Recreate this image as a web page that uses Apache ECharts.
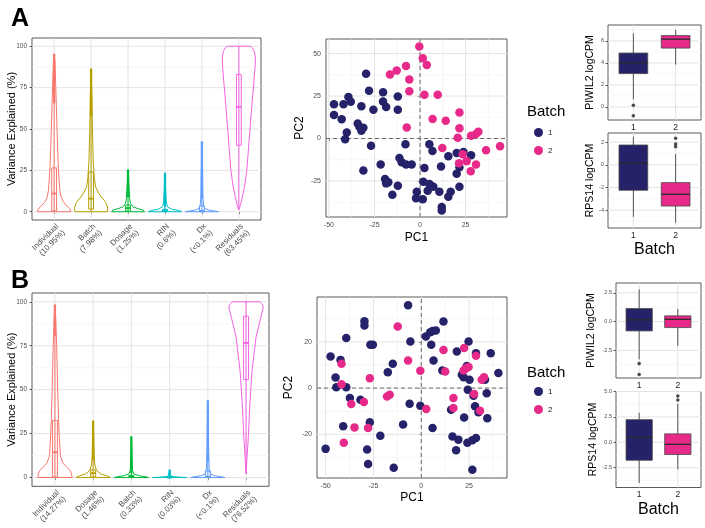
<!DOCTYPE html>
<html><head><meta charset="utf-8">
<script src="https://cdn.jsdelivr.net/npm/echarts@6/dist/echarts.min.js"></script>
<style>html,body{margin:0;padding:0;background:#fff}#c{width:705px;height:528px}</style>
</head><body><div id="c"></div>
<script>
// ---------------- DATA ----------------
const violinCatsA = ['Individual\n(10.95%)','Batch\n(7.98%)','Dosage\n(1.25%)','RIN\n(0.6%)','Dx\n(<0.1%)','Residuals\n(63.45%)'];
const violinCatsB = ['Individual\n(14.27%)','Dosage\n(1.46%)','Batch\n(0.33%)','RIN\n(0.03%)','Dx\n(<0.1%)','Residuals\n(76.52%)'];
const violinTicks = [0,25,50,75,100];
const violinMinor = [12.5,37.5,62.5,87.5];

// violin profiles: [value, relative width]
const profA_individual = [[0,1.0],[1,0.98],[2,0.93],[4,0.72],[6,0.55],[9,0.42],[13,0.34],[20,0.29],[30,0.24],[50,0.17],[75,0.1],[90,0.05],[95,0]];
const profA_batch = [[0,0.97],[2,1.0],[5,0.92],[7,0.78],[9,0.6],[11,0.47],[15,0.27],[20,0.2],[30,0.13],[50,0.08],[70,0.05],[86,0]];
const profA_dosage = [[0,1.0],[1,0.9],[2,0.55],[3,0.3],[5,0.15],[8,0.1],[15,0.06],[25,0]];
const profA_rin = [[0,1.0],[0.8,0.8],[1.5,0.4],[3,0.15],[6,0.08],[12,0.05],[23,0]];
const profA_dx = [[0,1.0],[0.5,0.7],[1,0.4],[2,0.18],[4,0.1],[10,0.06],[25,0.04],[42,0]];
const profA_resid = [[1.2,0],[4,0.1],[7,0.17],[15,0.34],[25,0.48],[50,0.67],[65,0.79],[78,0.9],[88,0.98],[93,1.0],[97,0.93],[99,0.82],[100,0.7]];

const profB_individual = [[0,1.0],[2,0.97],[4,0.88],[6,0.68],[8,0.48],[12,0.32],[20,0.27],[30,0.22],[50,0.16],[75,0.1],[90,0.05],[98,0]];
const profB_dosage = [[0,1.0],[1,0.8],[2,0.45],[4,0.2],[7,0.1],[12,0.06],[20,0.04],[32,0]];
const profB_batch = [[0,1.0],[0.5,0.8],[1,0.45],[2,0.15],[4,0.07],[10,0.04],[23,0]];
const profB_rin = [[0,1.0],[0.2,0.6],[0.5,0.2],[1,0.08],[2,0.04],[4,0]];
const profB_dx = [[0,1.0],[0.5,0.75],[1,0.4],[2,0.15],[5,0.08],[15,0.05],[30,0.03],[43.5,0]];
const profB_resid = [[2.1,0],[12,0.06],[23,0.13],[42,0.22],[61,0.35],[80,0.58],[90,0.83],[96,0.98],[97.5,1.0],[99,0.9],[100,0.8]];

// box inside violin: [lower, q1, median, q3, upper whisker, max]
const violinBoxA = [[0,0.5,11,26.5,66,95],[0,1.6,7.9,24,58,86],[0,0.3,2.2,4,9.5,25],[0,0.1,0.6,1.5,3.6,23],[0,0,0.5,3.5,8.8,42],[1.2,40.2,63.4,83,100,100]];
const violinBoxB = [[0,0.3,14.4,32.5,81,98],[0,0.3,2.5,4.4,10.5,32],[0,0.1,0.5,1.2,2.9,23],[0,0,0.1,0.4,1,4],[0,0,0.5,3.8,9.5,43.5],[2.1,55.7,76.6,91.8,100,100]];

// PCA
const pcaA_batch1 = [[-29.6,38.1],[-47.2,20.2],[-42.0,20.2],[-39.3,24.4],[-38.0,21.6],[-32.2,19.0],[-28.0,28.2],[-25.6,16.9],[-20.3,27.2],[-20.3,21.8],[-18.6,18.5],[-12.2,24.8],[-12.2,16.9],[-47.2,13.9],[-43.0,11.3],[-34.2,8.9],[-33.3,6.9],[-31.1,6.3],[-32.2,4.6],[-40.2,3.6],[-41.1,-0.4],[-26.9,-4.2],[-8.0,-3.4],[5.1,-3.4],[6.8,-7.3],[15.5,-10.5],[20.1,-8.5],[23.8,-7.9],[28.0,-9.9],[-11.3,-11.5],[-10.1,-13.9],[-7.7,-15.3],[-4.6,-15.3],[-21.6,-15.3],[-31.1,-18.8],[2.4,-17.3],[11.5,-16.5],[21.6,-16.9],[20.1,-20.8],[-19.2,-23.8],[-18.6,-26.4],[-17.4,-25.8],[-12.2,-27.8],[-15.2,-33.1],[1.8,-25.4],[5.1,-26.8],[6.0,-27.8],[7.3,-28.4],[4.2,-30.8],[10.6,-31.3],[16.8,-31.3],[15.5,-34.3],[21.6,-28.4],[-1.8,-31.3],[-2.2,-35.1],[1.5,-35.7],[11.9,-40.3],[11.9,-42.3]];
const pcaA_batch2 = [[-0.4,54.2],[1.5,47.2],[3.7,43.3],[-7.7,42.7],[-12.8,40.1],[-16.5,37.7],[-5.9,34.7],[-5.9,27.8],[2.4,25.8],[9.7,25.8],[-7.3,6.5],[6.9,11.5],[14.1,10.5],[21.6,15.3],[21.6,6.0],[20.7,0.4],[28.0,1.6],[30.7,2.6],[32.0,4.0],[43.9,-4.6],[36.2,-6.9],[12.2,-5.6],[23.4,-9.3],[25.6,-13.3],[21.4,-14.5],[30.7,-15.3],[27.8,-19.2]];
const pcaB_batch1 = [[-6.9,35.8],[-29.7,28.9],[-29.7,27.1],[-39.2,21.7],[-26.6,18.7],[-25.3,18.7],[-5.7,20.1],[2.4,22.3],[4.7,24.2],[5.9,24.7],[7.6,24.9],[11.6,28.8],[5.2,18.7],[6.4,11.9],[-47.4,13.7],[-42.2,12.2],[-14.9,10.5],[-17.5,6.8],[-44.8,4.6],[-44.4,0.4],[-39.2,0.4],[-37.3,-4.3],[-31.8,-5.0],[-6.1,-6.8],[-0.5,-7.6],[-26.9,-14.8],[-40.8,-16.5],[-9.5,-15.8],[5.9,-17.3],[-21.4,-20.6],[-50.0,-26.3],[-28.3,-26.6],[-27.8,-32.8],[-14.4,-34.5],[11.0,7.6],[18.6,15.8],[24.7,20.1],[28.6,15.1],[36.3,15.1],[40.3,6.5],[23.8,9.6],[21.2,5.8],[22.1,4.7],[25.2,3.6],[24.3,-0.7],[27.3,-3.3],[34.2,-2.2],[33.3,3.6],[15.6,-9.4],[28.1,-7.9],[29.9,-10.5],[34.5,-13.0],[22.4,-12.7],[16.3,-20.9],[19.4,-22.3],[18.2,-26.9],[24.1,-23.7],[26.7,-22.6],[28.6,-21.6],[26.7,-35.3]];
const pcaB_batch2 = [[-12.3,26.6],[-6.9,11.9],[-0.5,7.5],[11.6,16.5],[12.5,7.2],[22.4,17.3],[28.6,14.0],[23.3,8.6],[22.1,7.6],[24.7,9.1],[31.6,3.6],[32.8,4.7],[-41.7,10.5],[-41.7,1.7],[-26.9,4.3],[-17.9,-3.6],[-16.5,-2.9],[-36.6,-6.9],[-30.0,-6.0],[2.6,-9.1],[16.8,-4.3],[16.8,-8.6],[27.6,-2.6],[30.7,-9.8],[-34.9,-17.0],[-27.8,-17.3],[-40.5,-23.7]];
const batchNames = ['1','2'];
const pcaTicksA_x = [-50,-25,0,25], pcaTicksA_y = [-25,0,25,50];
const pcaMinorA_x = [-37.5,-12.5,12.5,37.5], pcaMinorA_y = [-37.5,-12.5,12.5,37.5];
const pcaTicksB_x = [-50,-25,0,25], pcaTicksB_y = [-20,0,20];
const pcaMinorB_x = [-37.5,-12.5,12.5,37.5], pcaMinorB_y = [-30,-10,10,30];

// gene boxplots: [min, q1, median, q3, max] per batch
const boxA_PIWIL2 = [[0.7,3.03,4.0,4.9,6.7],[3.84,5.35,6.16,6.49,7.0]];
const boxA_PIWIL2_out = [[1,0.15],[1,-0.8]];
const boxA_RPS14 = [[-4.6,-2.25,0.15,1.75,2.49],[-5.12,-3.64,-2.6,-1.57,0.95]];
const boxA_RPS14_out = [[2,2.34],[2,1.83],[2,1.6]];
const boxB_PIWIL2 = [[-3.28,-0.81,0.15,1.13,2.8],[-2.12,-0.52,0.2,0.5,1.1]];
const boxB_PIWIL2_out = [[1,-3.65],[1,-4.6]];
const boxB_RPS14 = [[-4.0,-1.77,0.5,2.23,2.9],[-2.67,-1.2,-0.2,0.83,3.8]];
const boxB_RPS14_out = [[2,4.16],[2,4.56]];
const ticksA_PIWIL2 = [0,2,4,6], minorA_PIWIL2 = [-1,1,3,5,7];
const ticksA_RPS14 = [-4,-2,0,2], minorA_RPS14 = [-5,-3,-1,1];
const ticksB_PIWIL2 = [-2.5,0,2.5], minorB_PIWIL2 = [-3.75,-1.25,1.25];
const ticksB_RPS14 = [-2.5,0,2.5,5], minorB_RPS14 = [-3.75,-1.25,1.25,3.75];
const boxTicksX = [1,2];

// ---------------- STYLE / LAYOUT ----------------
const FONT = 'Liberation Sans, Arial, Helvetica, sans-serif';
const HUE = ['#F8766D','#B79F00','#00BA38','#00BFC4','#619CFF','#F564E3'];
const BATCHCOL = ['#25226A','#E7298A'];
const MAJ = '#e4e4e4', MIN = '#f1f1f1';
const VW = 0.45, VBW = 0.065, BOXW = 0.34;

const grids = [
  {left:32, top:38, width:229, height:182},   // 0 A violin
  {left:326, top:39, width:181, height:178},  // 1 A PCA
  {left:608, top:25, width:93, height:95},    // 2 A PIWIL2
  {left:608, top:133, width:93, height:95},   // 3 A RPS14
  {left:32, top:293, width:237, height:194},  // 4 B violin
  {left:317, top:297, width:190, height:181}, // 5 B PCA
  {left:616, top:283, width:85, height:95},   // 6 B PIWIL2
  {left:616, top:391.5, width:85, height:96}  // 7 B RPS14
].map(g => Object.assign({show:true, borderColor:'#5a5a5a', borderWidth:1, backgroundColor:'transparent'}, g));

const ranges = [
  {x:[0.4,6.6], y:[-5,105]},
  {x:[-51.6,47.7], y:[-46.2,58.6]},
  {x:[0.4,2.6], y:[-1.19,7.45]},
  {x:[0.4,2.6], y:[-5.58,2.81]},
  {x:[0.4,6.6], y:[-5,105]},
  {x:[-54.5,44.8], y:[-38.9,39.4]},
  {x:[0.4,2.6], y:[-4.9,3.35]},
  {x:[0.4,2.6], y:[-4.45,5.0]}
];

function axis(gi, dim, ticks, o) {
  const r = ranges[gi][dim];
  return {
    type:'value', gridIndex:gi, min:r[0], max:r[1],
    axisLine:{show:false}, splitLine:{show:false},
    axisTick:{show:true, length:2.5, customValues:ticks, lineStyle:{color:'#333', width:0.8}},
    axisLabel:Object.assign({customValues:ticks, fontSize:7, color:'#4d4d4d', margin:4, fontFamily:FONT}, o.label||{}),
    name:o.name||'', nameLocation:'middle', nameGap:o.gap||15, nameMoveOverlap:false,
    nameTextStyle:{fontSize:o.nameSize||11, color:'#000', fontFamily:FONT}
  };
}

const vLabel = (cats) => ({rotate:45, fontSize:8, lineHeight:9, margin:2, verticalAlign:'top', align:'right', formatter:v=>cats[Math.round(v)-1]});
const xAxes = [
  axis(0,'x',[1,2,3,4,5,6],{label:vLabel(violinCatsA)}),
  axis(1,'x',pcaTicksA_x,{name:'PC1', gap:15, nameSize:12, label:{margin:5}}),
  axis(2,'x',boxTicksX,{label:{fontSize:8.5, color:'#1a1a1a', margin:3, formatter:v=>batchNames[v-1]}}),
  axis(3,'x',boxTicksX,{name:'Batch', gap:14, nameSize:16, label:{fontSize:8.5, color:'#1a1a1a', margin:3, formatter:v=>batchNames[v-1]}}),
  axis(4,'x',[1,2,3,4,5,6],{label:vLabel(violinCatsB)}),
  axis(5,'x',pcaTicksB_x,{name:'PC1', gap:14, nameSize:12, label:{margin:5}}),
  axis(6,'x',boxTicksX,{label:{fontSize:8.5, color:'#1a1a1a', margin:3, formatter:v=>batchNames[v-1]}}),
  axis(7,'x',boxTicksX,{name:'Batch', gap:14.5, nameSize:16, label:{fontSize:8.5, color:'#1a1a1a', margin:3, formatter:v=>batchNames[v-1]}})
];
const yAxes = [
  axis(0,'y',violinTicks,{name:'Variance Explained (%)', gap:14.5, nameSize:11, label:{fontSize:6.5, margin:5}}),
  axis(1,'y',pcaTicksA_y,{name:'PC2', gap:20, nameSize:12, label:{margin:5}}),
  axis(2,'y',ticksA_PIWIL2,{name:'PIWIL2 logCPM', gap:12, nameSize:10.5, label:{fontSize:5.5, margin:4}}),
  axis(3,'y',ticksA_RPS14,{name:'RPS14 logCPM', gap:12, nameSize:10.5, label:{fontSize:5.5, margin:4}}),
  axis(4,'y',violinTicks,{name:'Variance Explained (%)', gap:14.5, nameSize:11, label:{fontSize:6.5, margin:5}}),
  axis(5,'y',pcaTicksB_y,{name:'PC2', gap:22, nameSize:12, label:{margin:5}}),
  axis(6,'y',ticksB_PIWIL2,{name:'PIWIL2 logCPM', gap:19, nameSize:10.5, label:{fontSize:5.5, margin:4, formatter:v=>v.toFixed(1)}}),
  axis(7,'y',ticksB_RPS14,{name:'RPS14 logCPM', gap:17, nameSize:10.5, label:{fontSize:5.5, margin:4, formatter:v=>v.toFixed(1)}})
];

function gridLines(gi, xMaj, xMin, yMaj, yMin) {
  const xr = ranges[gi].x, yr = ranges[gi].y;
  return {type:'custom', xAxisIndex:gi, yAxisIndex:gi, z:1, silent:true, data:[[xr[0],yr[0]]],
    renderItem:(p, api) => {
      const ch = [];
      const add = (a,b,col,w) => ch.push({type:'line', shape:{x1:a[0],y1:a[1],x2:b[0],y2:b[1]}, style:{stroke:col, lineWidth:w}});
      xMin.forEach(v => add(api.coord([v,yr[0]]), api.coord([v,yr[1]]), MIN, 0.6));
      yMin.forEach(v => add(api.coord([xr[0],v]), api.coord([xr[1],v]), MIN, 0.6));
      xMaj.forEach(v => add(api.coord([v,yr[0]]), api.coord([v,yr[1]]), MAJ, 1));
      yMaj.forEach(v => add(api.coord([xr[0],v]), api.coord([xr[1],v]), MAJ, 1));
      return {type:'group', children:ch};
    }};
}
function zeroLines(gi) {
  const xr = ranges[gi].x, yr = ranges[gi].y;
  return {type:'custom', xAxisIndex:gi, yAxisIndex:gi, z:2, silent:true, data:[[0,0]],
    renderItem:(p, api) => {
      const a = api.coord([0,yr[0]]), b = api.coord([0,yr[1]]), c = api.coord([xr[0],0]), d = api.coord([xr[1],0]);
      const st = {stroke:'#6a6a6a', lineWidth:1, lineDash:[4,3]};
      return {type:'group', children:[
        {type:'line', shape:{x1:a[0],y1:a[1],x2:b[0],y2:b[1]}, style:st},
        {type:'line', shape:{x1:c[0],y1:c[1],x2:d[0],y2:d[1]}, style:st}]};
    }};
}
function violinSeries(gi, profiles, boxes) {
  return {type:'custom', xAxisIndex:gi, yAxisIndex:gi, z:3, silent:true,
    data: boxes.map((b,i)=>[i+1, b[2]]),
    renderItem:(params, api) => {
      const i = params.dataIndex, cx = i+1, prof = profiles[i], b = boxes[i], col = HUE[i];
      const pts = [];
      prof.forEach(([y,w]) => pts.push(api.coord([cx - w*VW, y])));
      for (let k = prof.length-1; k >= 0; k--) pts.push(api.coord([cx + prof[k][1]*VW, prof[k][0]]));
      const lo = api.coord([cx,b[0]]), wh = api.coord([cx,b[4]]), mx = api.coord([cx,b[5]]);
      const tl = api.coord([cx-VBW,b[3]]), br = api.coord([cx+VBW,b[1]]);
      const ml = api.coord([cx-VBW,b[2]]), mr = api.coord([cx+VBW,b[2]]);
      const ch = [
        {type:'polygon', shape:{points:pts}, style:{fill:'rgba(255,255,255,0)', stroke:col, lineWidth:1}},
        {type:'line', shape:{x1:lo[0],y1:lo[1],x2:wh[0],y2:wh[1]}, style:{stroke:col, lineWidth:1}},
        {type:'rect', shape:{x:tl[0], y:tl[1], width:br[0]-tl[0], height:Math.max(br[1]-tl[1],1)}, style:{fill:'rgba(255,255,255,0)', stroke:col, lineWidth:1}},
        {type:'line', shape:{x1:ml[0],y1:ml[1],x2:mr[0],y2:mr[1]}, style:{stroke:col, lineWidth:1.8}}
      ];
      if (b[5] > b[4]) ch.push({type:'line', shape:{x1:wh[0],y1:wh[1],x2:mx[0],y2:mx[1]}, style:{stroke:col, lineWidth:2.3, lineCap:'round'}});
      return {type:'group', children:ch};
    }};
}
function boxSeries(gi, stats) {
  return {type:'custom', xAxisIndex:gi, yAxisIndex:gi, z:3, silent:true,
    data: stats.map((s,i)=>[i+1, s[2]]),
    renderItem:(params, api) => {
      const i = params.dataIndex, cx = i+1, s = stats[i];
      const lo = api.coord([cx,s[0]]), hi = api.coord([cx,s[4]]);
      const tl = api.coord([cx-BOXW,s[3]]), br = api.coord([cx+BOXW,s[1]]);
      const ml = api.coord([cx-BOXW,s[2]]), mr = api.coord([cx+BOXW,s[2]]);
      return {type:'group', children:[
        {type:'line', shape:{x1:lo[0],y1:lo[1],x2:hi[0],y2:hi[1]}, style:{stroke:'#555', lineWidth:1}},
        {type:'rect', shape:{x:tl[0], y:tl[1], width:br[0]-tl[0], height:br[1]-tl[1]}, style:{fill:BATCHCOL[i], stroke:'#4a4a4a', lineWidth:0.8}},
        {type:'line', shape:{x1:ml[0],y1:ml[1],x2:mr[0],y2:mr[1]}, style:{stroke:'#2a2a2a', lineWidth:1.3}}
      ]};
    }};
}
function outliers(gi, pts) {
  return {type:'scatter', xAxisIndex:gi, yAxisIndex:gi, z:4, silent:true, symbolSize:3.6, itemStyle:{color:'#222'}, data:pts};
}
function pca(gi, name, pts, col) {
  return {type:'scatter', name, xAxisIndex:gi, yAxisIndex:gi, z:5, symbol:'circle', symbolSize:8.5, itemStyle:{color:col, opacity:1}, data:pts};
}

const series = [
  gridLines(0,[1,2,3,4,5,6],[],violinTicks,violinMinor),
  violinSeries(0,[profA_individual,profA_batch,profA_dosage,profA_rin,profA_dx,profA_resid],violinBoxA),
  gridLines(4,[1,2,3,4,5,6],[],violinTicks,violinMinor),
  violinSeries(4,[profB_individual,profB_dosage,profB_batch,profB_rin,profB_dx,profB_resid],violinBoxB),
  gridLines(1,pcaTicksA_x,pcaMinorA_x,pcaTicksA_y,pcaMinorA_y), zeroLines(1),
  pca(1,'1',pcaA_batch1,BATCHCOL[0]), pca(1,'2',pcaA_batch2,BATCHCOL[1]),
  gridLines(5,pcaTicksB_x,pcaMinorB_x,pcaTicksB_y,pcaMinorB_y), zeroLines(5),
  pca(5,'1',pcaB_batch1,BATCHCOL[0]), pca(5,'2',pcaB_batch2,BATCHCOL[1]),
  gridLines(2,boxTicksX,[],ticksA_PIWIL2,minorA_PIWIL2), boxSeries(2,boxA_PIWIL2), outliers(2,boxA_PIWIL2_out),
  gridLines(3,boxTicksX,[],ticksA_RPS14,minorA_RPS14), boxSeries(3,boxA_RPS14), outliers(3,boxA_RPS14_out),
  gridLines(6,boxTicksX,[],ticksB_PIWIL2,minorB_PIWIL2), boxSeries(6,boxB_PIWIL2), outliers(6,boxB_PIWIL2_out),
  gridLines(7,boxTicksX,[],ticksB_RPS14,minorB_RPS14), boxSeries(7,boxB_RPS14), outliers(7,boxB_RPS14_out)
];

const legendBase = {data:batchNames, orient:'vertical', icon:'circle', itemWidth:9, itemHeight:9, itemGap:9,
  selectedMode:false, textStyle:{fontSize:8, color:'#222', fontFamily:FONT}};

const option = {
  animation:false,
  backgroundColor:'#fff',
  title:[
    {text:'A', left:6, top:2, textStyle:{fontSize:25, fontWeight:'bold', color:'#000', fontFamily:FONT}},
    {text:'B', left:6, top:264, textStyle:{fontSize:25, fontWeight:'bold', color:'#000', fontFamily:FONT}},
    {text:'Batch', left:522, top:99, textStyle:{fontSize:15, fontWeight:'normal', color:'#000', fontFamily:FONT}},
    {text:'Batch', left:522, top:360, textStyle:{fontSize:15, fontWeight:'normal', color:'#000', fontFamily:FONT}}
  ],
  legend:[
    Object.assign({left:529, top:123}, legendBase),
    Object.assign({left:529, top:382}, legendBase)
  ],
  grid:grids, xAxis:xAxes, yAxis:yAxes, series
};
const chart = echarts.init(document.getElementById('c'), null, {renderer:'canvas'});
chart.setOption(option);
</script></body></html>
